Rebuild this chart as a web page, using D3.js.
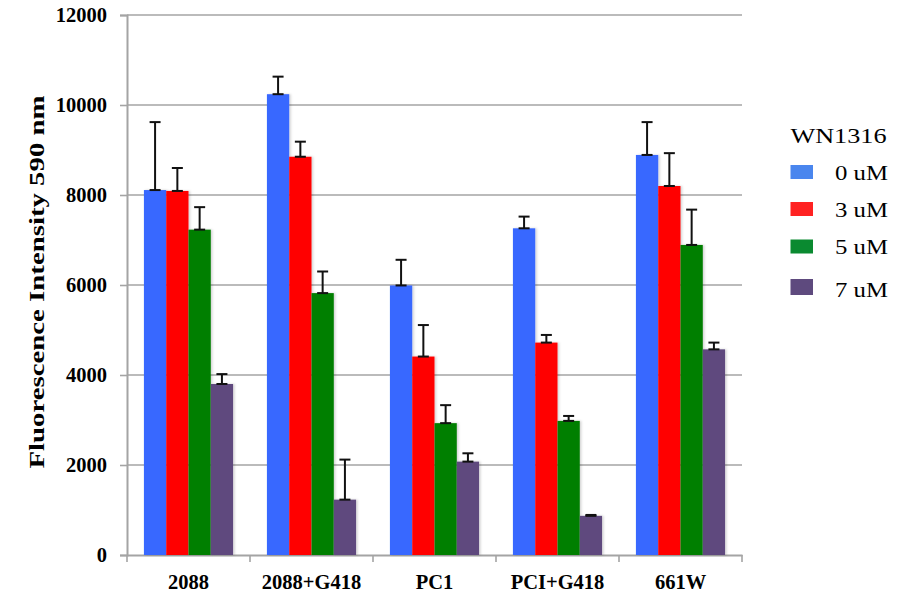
<!DOCTYPE html>
<html>
<head>
<meta charset="utf-8">
<script src="https://cdn.jsdelivr.net/npm/d3@7"></script>
<style>
  body { margin: 0; background: #fff; }
  svg { display: block; }
</style>
</head>
<body>
<svg id="chart" width="898" height="596"></svg>
<script>
// Cell lines and WN1316 doses
const categories = ["2088", "2088+G418", "PC1", "PCI+G418", "661W"];
const series = ["0 uM", "3 uM", "5 uM", "7 uM"];
const colors = ["#3867FF", "#FF0000", "#007F00", "#5E4A7E"];
const legendColors = ["#4A86EE", "#FF2222", "#0A8A30", "#5E4A7E"];

// Mean fluorescence per dose, one array per dose, ordered by cell line
const mean0 = [8110, 10240, 5990, 7260, 8890];
const mean3 = [8090, 8850, 4410, 4720, 8200];
const mean5 = [7230, 5820, 2930, 2980, 6890];
const mean7 = [3800, 1230, 2075, 870, 4570];

// Upper error (standard deviation) per dose
const err0 = [1510, 390, 570, 260, 730];
const err3 = [510, 335, 700, 170, 730];
const err5 = [500, 480, 400, 110, 785];
const err7 = [220, 890, 185, 20, 150];

const yTicks = [0, 2000, 4000, 6000, 8000, 10000, 12000];

const means = [mean0, mean3, mean5, mean7];
const errs = [err0, err3, err5, err7];

const SERIF = '"Liberation Serif", "Times New Roman", Times, serif';

const svg = d3.select("#chart");
const margin = { left: 127, right: 156, top: 15, bottom: 41 };
const W = 898, H = 596;
const plotRight = W - margin.right;
const plotBottom = H - margin.bottom;

const x0 = d3.scaleBand().domain(categories).range([margin.left, plotRight]).paddingInner(0).paddingOuter(0);
const x1 = d3.scaleBand().domain(series).range([0, x0.bandwidth()]).paddingInner(0).paddingOuter(0.76);
const y = d3.scaleLinear().domain([0, 12000]).range([plotBottom, margin.top]);

// Horizontal gridlines
svg.append("g").selectAll("line").data(yTicks.filter(t => t > 0)).join("line")
  .attr("x1", margin.left).attr("x2", plotRight)
  .attr("y1", d => y(d)).attr("y2", d => y(d))
  .attr("stroke", "#a4a4a4").attr("stroke-width", 1.6);

// Y axis
const yAxis = svg.append("g").attr("transform", `translate(${margin.left},0)`)
  .call(d3.axisLeft(y).tickValues(yTicks).tickSize(7).tickPadding(13).tickFormat(d3.format("d")));
yAxis.select(".domain").attr("stroke", "#a4a4a4").attr("stroke-width", 2);
yAxis.selectAll(".tick line").attr("stroke", "#a4a4a4").attr("stroke-width", 1.6);
yAxis.selectAll(".tick text")
  .style("font-family", SERIF).style("font-size", "20.5px").style("font-weight", "bold")
  .attr("fill", "#000").attr("dy", "0.34em");

// X axis
const xAxis = svg.append("g").attr("transform", `translate(0,${plotBottom})`)
  .call(d3.axisBottom(x0).tickSize(0).tickPadding(19));
xAxis.select(".domain").attr("stroke", "#a4a4a4").attr("stroke-width", 2);
xAxis.selectAll(".tick text")
  .style("font-family", SERIF).style("font-size", "20.5px").style("font-weight", "bold")
  .attr("fill", "#000");
// Category separators below the axis
svg.append("g").selectAll("line")
  .data(categories.map(c => x0(c)).concat([x0(categories[categories.length - 1]) + x0.bandwidth()]))
  .join("line")
  .attr("x1", d => d).attr("x2", d => d)
  .attr("y1", plotBottom).attr("y2", plotBottom + 7)
  .attr("stroke", "#a4a4a4").attr("stroke-width", 1.6);

// Bars with a soft shadow on the right
const defs = svg.append("defs");
const f = defs.append("filter").attr("id", "shadow").attr("x", "-20%").attr("y", "-5%").attr("width", "140%").attr("height", "110%");
f.append("feDropShadow").attr("dx", 1.5).attr("dy", 0).attr("stdDeviation", 1.2).attr("flood-color", "#000").attr("flood-opacity", 0.18);

const rows = [];
categories.forEach((c, i) => {
  series.forEach((s, j) => {
    rows.push({ cat: c, ser: s, j, v: means[j][i], e: errs[j][i] });
  });
});

svg.append("g").selectAll("rect").data(rows).join("rect")
  .attr("x", d => x0(d.cat) + x1(d.ser))
  .attr("y", d => y(d.v))
  .attr("width", x1.bandwidth())
  .attr("height", d => plotBottom - y(d.v))
  .attr("fill", d => colors[d.j])
  .attr("filter", "url(#shadow)");

// Upper error bars
const errG = svg.append("g").attr("stroke", "#111").attr("stroke-width", 2);
rows.forEach(d => {
  const cx = x0(d.cat) + x1(d.ser) + x1.bandwidth() / 2;
  errG.append("line").attr("x1", cx).attr("x2", cx).attr("y1", y(d.v)).attr("y2", y(d.v + d.e));
  errG.append("line").attr("x1", cx - 5.5).attr("x2", cx + 5.5).attr("y1", y(d.v + d.e)).attr("y2", y(d.v + d.e));
  errG.append("line").attr("x1", cx - 5.5).attr("x2", cx + 5.5).attr("y1", y(d.v)).attr("y2", y(d.v));
});

// Y axis title
svg.append("text")
  .attr("transform", `translate(44,282) rotate(-90)`)
  .attr("text-anchor", "middle")
  .attr("textLength", 373).attr("lengthAdjust", "spacingAndGlyphs")
  .style("font-family", SERIF).style("font-size", "22px").style("font-weight", "bold")
  .text("Fluorescence Intensity 590 nm");

// Legend
const legend = svg.append("g");
legend.append("text").attr("x", 790.5).attr("y", 143)
  .attr("textLength", 96).attr("lengthAdjust", "spacingAndGlyphs")
  .style("font-family", SERIF).style("font-size", "21px")
  .text("WN1316");
const swatchTop = [165, 202, 239.5, 279];
const swatchH = [14, 14, 14, 16];
const labelBase = [180, 216.5, 254, 296.5];
series.forEach((s, j) => {
  legend.append("rect").attr("x", 790.5).attr("y", swatchTop[j])
    .attr("width", 22.5).attr("height", swatchH[j]).attr("fill", legendColors[j]);
  legend.append("text").attr("x", 835).attr("y", labelBase[j])
    .attr("textLength", 53).attr("lengthAdjust", "spacingAndGlyphs")
    .style("font-family", SERIF).style("font-size", "21px")
    .text(s);
});
</script>
</body>
</html>
